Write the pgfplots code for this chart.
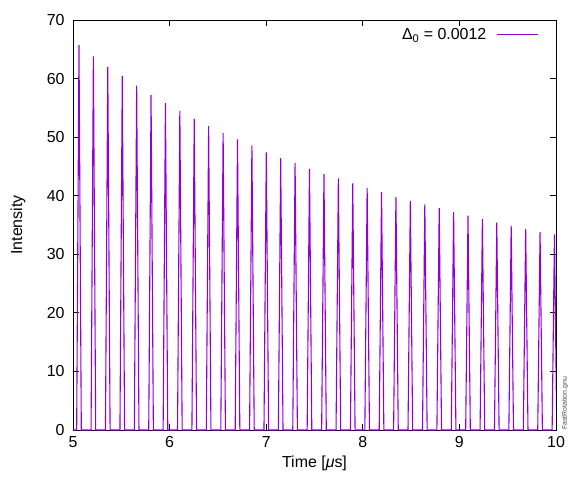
\documentclass[border=0pt]{standalone}
\usepackage{fontspec}
\setmainfont{Liberation Sans}
\usepackage{pgfplots}
\pgfplotsset{compat=1.18}
\definecolor{gpurple}{RGB}{148,0,211}
\begin{document}
\fontsize{16}{18}\selectfont
\begin{tikzpicture}
\path[use as bounding box] (-73bp,-50bp) rectangle (495bp,430bp);
\begin{axis}[
  scale only axis, width=483bp, height=410bp,
  xmin=5, xmax=10, ymin=0, ymax=70,
  xtick={5,6,7,8,9,10}, ytick={0,10,20,30,40,50,60,70},
  tick align=inside, major tick length=6bp,
  tick style={black, line width=0.8pt},
  axis line style={black, line width=0.9pt},
  /pgf/number format/assume math mode=true,
  ticklabel style={font=\fontsize{16}{18}\selectfont},
  yticklabel style={xshift=-3bp},
  xticklabel style={yshift=-1bp},
  xlabel={Time [\textit{μ}s]}, ylabel={Intensity},
  label style={font=\fontsize{16}{18}\selectfont},
  xlabel style={at={(axis description cs:0.5,-0.082)}, anchor=center},
  ylabel style={at={(axis description cs:-0.114,0.5)}, anchor=center},
  legend plot pos=right, legend cell align=right,
  legend style={at={(axis description cs:0.9645,0.985)}, anchor=north east, draw=none, fill=none, inner sep=0pt, column sep=8bp, font=\fontsize{16}{18}\selectfont},
  legend image code/.code={\draw[draw=gpurple, line width=1.3bp] (0bp,0.5bp) -- (41bp,0.5bp);},
  clip=true,
]
\addplot[gpurple, line width=1.1bp] coordinates {
(5.000,0) (5.038,0) (5.062,65.7) (5.086,0)
(5.187,0) (5.211,63.8) (5.235,0)
(5.336,0) (5.360,62.0) (5.384,0)
(5.486,0) (5.510,60.4) (5.534,0)
(5.635,0) (5.659,58.8) (5.683,0)
(5.784,0) (5.808,57.2) (5.832,0)
(5.933,0) (5.957,55.8) (5.981,0)
(6.082,0) (6.106,54.5) (6.130,0)
(6.231,0) (6.255,53.1) (6.279,0)
(6.380,0) (6.404,51.9) (6.428,0)
(6.530,0) (6.554,50.7) (6.578,0)
(6.679,0) (6.703,49.6) (6.727,0)
(6.828,0) (6.852,48.6) (6.876,0)
(6.977,0) (7.001,47.4) (7.025,0)
(7.126,0) (7.150,46.4) (7.174,0)
(7.275,0) (7.299,45.6) (7.323,0)
(7.424,0) (7.448,44.6) (7.472,0)
(7.574,0) (7.598,43.7) (7.622,0)
(7.723,0) (7.747,42.95) (7.771,0)
(7.872,0) (7.896,42.1) (7.920,0)
(8.021,0) (8.045,41.35) (8.069,0)
(8.170,0) (8.194,40.6) (8.218,0)
(8.319,0) (8.343,39.8) (8.367,0)
(8.468,0) (8.492,39.1) (8.516,0)
(8.618,0) (8.642,38.5) (8.666,0)
(8.767,0) (8.791,37.9) (8.815,0)
(8.916,0) (8.940,37.2) (8.964,0)
(9.065,0) (9.089,36.6) (9.113,0)
(9.214,0) (9.238,36.0) (9.262,0)
(9.363,0) (9.387,35.4) (9.411,0)
(9.512,0) (9.536,34.9) (9.560,0)
(9.662,0) (9.686,34.35) (9.710,0)
(9.811,0) (9.835,33.8) (9.859,0)
(9.960,0) (9.984,33.4) (10.008,0)
};
\addlegendentry{Δ\textsubscript{0} = 0.0012}
\end{axis}
\node[rotate=90, anchor=west, font=\fontsize{7}{8}\selectfont, text=black!70, inner sep=0pt] at (492bp,0bp) {FastRotation.gnu};
\end{tikzpicture}
\end{document}
